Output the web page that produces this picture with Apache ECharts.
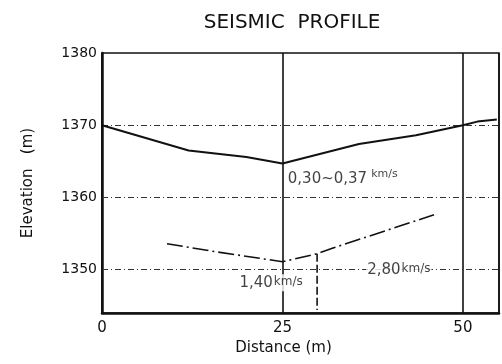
<!DOCTYPE html>
<html>
<head>
<meta charset="utf-8">
<script src="https://cdn.jsdelivr.net/npm/echarts@6/dist/echarts.min.js"></script>
<style>
html,body{margin:0;padding:0;background:#fff;}
#chart{width:502px;height:364px;}
</style>
</head>
<body>
<div id="chart"></div>
<script>
// surface layer (top line), distance m / elevation m
var surfaceDist=[0, 12, 20, 25, 35.6, 43.5, 50, 52, 54.7];
var surfaceElev=[1370, 1366.5, 1365.6, 1364.7, 1367.4, 1368.6, 1370, 1370.5, 1370.8];
// refractor (lower dash-dot line)
var refrDist=[9, 15, 25, 29.8, 32, 46];
var refrElev=[1353.6, 1352.6, 1351.1, 1352.2, 1353.0, 1357.6];
// velocity boundary marker
var markDist=[29.8, 29.8];
var markElev=[1352.2, 1344.4];
// horizontal grid lines
var gridElev=[1350, 1360, 1370];
// velocity labels: distance, elevation, value, unit
var velDist=[25.6, 18.9, 36.6];
var velElev=[1362.6, 1348.2, 1350];
var velText=['0,30~0,37', '1,40', '2,80'];
var velUnit=['km/s', 'km/s', 'km/s'];

function pairs(xs,ys){
	var out=[];
	for(var i=0;i<xs.length;i++){out.push([xs[i],ys[i]]);}
	return out;
}

var chart=echarts.init(document.getElementById('chart'));
var labelData=[];
for(var i=0;i<velDist.length;i++){
	labelData.push({value:[velDist[i],velElev[i]],name:velText[i],unit:velUnit[i],sup:i==0});
}

option={
	animation:false,
	title:{
		text:"SEISMIC  PROFILE",
		left:287,
		top:8,
		textAlign:'center',
		textStyle:{
			color:"#111",
			fontSize:20,
			fontWeight:'normal',
			fontFamily:'DejaVu Sans'
		}
	},
	grid:{
		left:102,
		right:2,
		top:53,
		bottom:51,
		show:true,
		borderColor:'#111',
		borderWidth:1.5,
		backgroundColor:'transparent'
	},
	xAxis:{
		type:'value',
		min:0,
		max:55,
		interval:25,
		name:'Distance (m)',
		nameLocation:'middle',
		nameGap:25,
		nameTextStyle:{
			color:'#111',
			fontSize:15,
			fontFamily:'DejaVu Sans',
			padding:[0,34,0,0]
		},
		axisLine:{lineStyle:{color:'#111',width:2.5}},
		axisTick:{show:false},
		axisLabel:{
			color:'#111',
			fontSize:15,
			fontFamily:'DejaVu Sans',
			margin:8,
			formatter:function(v){return v%25===0?String(v):'';}
		},
		splitLine:{show:true,lineStyle:{color:'#111',width:1.6,type:'solid'}}
	},
	yAxis:{
		type:'value',
		min:1344,
		max:1380,
		interval:2,
		name:'Elevation   (m)',
		nameLocation:'middle',
		nameGap:66,
		nameRotate:90,
		nameTextStyle:{
			color:'#111',
			fontSize:15,
			fontFamily:'DejaVu Sans'
		},
		axisLine:{show:true,lineStyle:{color:'#111',width:2.5}},
		axisTick:{show:false},
		axisLabel:{
			color:'#111',
			fontSize:14,
			fontFamily:'DejaVu Sans',
			margin:5,
			formatter:function(v){return v%10===0?String(v):'';}
		},
		splitLine:{show:false}
	},
	series:[
		{
			name:'surface',
			type:'line',
			data:pairs(surfaceDist,surfaceElev),
			showSymbol:false,
			z:3,
			lineStyle:{color:'#111',width:2},
			markLine:{
				silent:true,
				symbol:'none',
				label:{show:false},
				z:1,
				lineStyle:{color:'#333',width:1,type:[6,3,1,3]},
				data:gridElev.map(function(v){return {yAxis:v};})
			}
		},
		{
			name:'refractor',
			type:'line',
			data:pairs(refrDist,refrElev),
			showSymbol:false,
			z:3,
			lineStyle:{color:'#111',width:1.6,type:[16,4,2,4]}
		},
		{
			name:'boundary',
			type:'line',
			data:pairs(markDist,markElev),
			showSymbol:false,
			z:3,
			lineStyle:{color:'#111',width:1.6,type:[8,3]}
		},
		{
			name:'velocity',
			type:'scatter',
			symbolSize:0,
			z:5,
			data:labelData,
			label:{
				show:true,
				position:'right',
				distance:0,
				backgroundColor:'#fff',
				padding:[1,1],
				formatter:function(p){
					if(p.data.sup){return '{v|'+p.data.name+'}{s|'+p.data.unit+'}';}
					return '{v|'+p.data.name+'}{u|'+p.data.unit+'}';
				},
				rich:{
					v:{color:'#111',fontSize:15,fontFamily:'DejaVu Sans'},
					u:{color:'#111',fontSize:12,fontFamily:'DejaVu Sans',padding:[0,0,2,1]},
					s:{color:'#111',fontSize:11,fontFamily:'DejaVu Sans',padding:[0,0,9,4]}
				}
			}
		}
	]
};
chart.setOption(option);
</script>
</body>
</html>
